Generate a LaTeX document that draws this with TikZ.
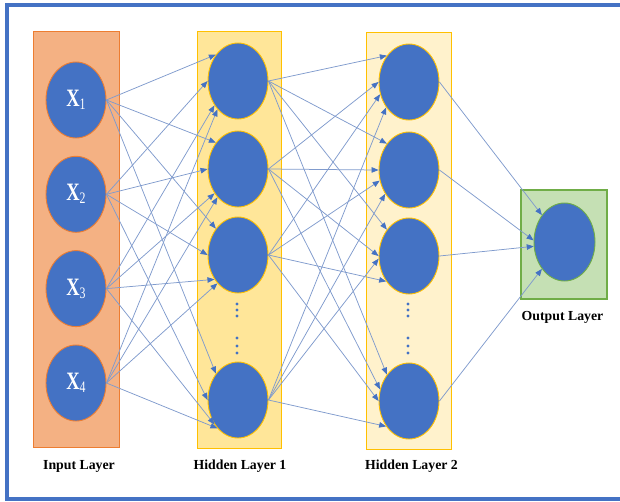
\documentclass[tikz,border=0pt]{standalone}
\usepackage{graphicx}
\usepackage{fontspec}
\setmainfont{Liberation Serif}
\usetikzlibrary{shapes.geometric,arrows.meta}
\definecolor{nodeblue}{HTML}{4472C4}
\definecolor{framecol}{HTML}{4472C4}
\definecolor{linecol}{RGB}{128,155,205}
\definecolor{infill}{HTML}{F4B183}
\definecolor{inborder}{HTML}{ED7D31}
\definecolor{hafill}{HTML}{FFE699}
\definecolor{hbfill}{HTML}{FFF2CC}
\definecolor{hborder}{HTML}{FFC000}
\definecolor{outfill}{HTML}{C5E0B4}
\definecolor{outborder}{HTML}{70AD47}
\newcommand\xlab[1]{\scalebox{0.74}[1]{\fontsize{25}{25}\selectfont\bfseries X\raisebox{-3pt}{\fontsize{16}{16}\selectfont\mdseries #1}}}
\begin{document}
\begin{tikzpicture}[x=1pt,y=-1pt,
  neuron/.style={ellipse,minimum width=60pt,minimum height=76pt,inner sep=0pt,fill=nodeblue,line width=0.9pt},
  inneuron/.style={neuron,draw=inborder,text=white},
  hneuron/.style={neuron,draw=hborder},
  oneuron/.style={neuron,draw=outborder,minimum width=61pt,minimum height=78pt},
  conn/.style={draw=linecol,line width=0.75pt,-{Triangle[length=7pt,width=5.5pt,color=nodeblue]}},
  lbl/.style={font=\bfseries\fontsize{13.8}{14}\selectfont,anchor=base,inner sep=0pt},
  layerbox/.style={line width=1pt},
  vdot/.style={circle,fill=nodeblue,inner sep=0pt,minimum size=3.4pt}
]
\useasboundingbox (0,0) rectangle (620,501);
% frame
\draw[framecol,line width=4pt] (6.5,5) rectangle (640,498.5);
% layer boxes
\draw[layerbox,fill=infill,draw=inborder] (33,31) rectangle (119,447);
\draw[layerbox,fill=hafill,draw=hborder] (197,31) rectangle (281,448);
\draw[layerbox,fill=hbfill,draw=hborder] (366,32) rectangle (451,449);
\draw[layerbox,line width=1.3pt,fill=outfill,draw=outborder] (521,190) rectangle (607,299);
% input nodes
\node[inneuron] (i1) at (76,100) {\xlab{1}};
\node[inneuron] (i2) at (76,194.3) {\xlab{2}};
\node[inneuron] (i3) at (76,288.6) {\xlab{3}};
\node[inneuron] (i4) at (76,383) {\xlab{4}};
% hidden 1
\node[hneuron] (h1) at (238,81) {};
\node[hneuron] (h2) at (238,169) {};
\node[hneuron] (h3) at (238,255) {};
\node[hneuron] (h4) at (238,400) {};
% hidden 2
\node[hneuron] (g1) at (409,82) {};
\node[hneuron] (g2) at (409,170) {};
\node[hneuron] (g3) at (409,256) {};
\node[hneuron] (g4) at (409,401) {};
% output
\node[oneuron] (o) at (564.5,242) {};
% dots
\foreach \yy [count=\k] in {304,310,316,338,346,353} {
  \node[vdot] (da\k) at (237,\yy) {};
  \node[vdot] (db\k) at (408,\yy) {};
}
% input -> hidden1
\foreach \t in {h1,h2,h3,h4} {
  \draw[conn] (i1.east) -- (\t.130);
  \draw[conn] (i2.east) -- (\t.180);
  \draw[conn] (i3.east) -- (\t.226);
  \draw[conn] (i4.east) -- (\t.234);
}
% hidden1 -> hidden2
\draw[conn] (h1.east) -- (g1.130);
\draw[conn] (h2.east) -- (g1.180);
\draw[conn] (h3.east) -- (g1.203);
\draw[conn] (h4.east) -- (g1.228);
\draw[conn] (h1.east) -- (g2.130);
\draw[conn] (h2.east) -- (g2.180);
\draw[conn] (h3.east) -- (g2.200);
\draw[conn] (h4.east) -- (g2.225);
\draw[conn] (h1.east) -- (g3.130);
\draw[conn] (h2.east) -- (g3.180);
\draw[conn] (h3.east) -- (g3.228);
\draw[conn] (h4.east) -- (g3.185);
\draw[conn] (h1.east) -- (g4.130);
\draw[conn] (h2.east) -- (g4.158);
\draw[conn] (h3.east) -- (g4.180);
\draw[conn] (h4.east) -- (g4.228);
% hidden2 -> output
\draw[conn] (g1.east) -- (o.130);
\draw[conn] (g2.east) -- (o.177);
\draw[conn] (g3.east) -- (o.188);
\draw[conn] (g4.east) -- (o.230);
% labels
\node[lbl] (li) at (79,469) {Input Layer};
\node[lbl] (lh1) at (240,469) {Hidden Layer 1};
\node[lbl] (lh2) at (411.5,469) {Hidden Layer 2};
\node[lbl] (lo) at (562.5,320) {Output Layer};
\end{tikzpicture}
\end{document}
